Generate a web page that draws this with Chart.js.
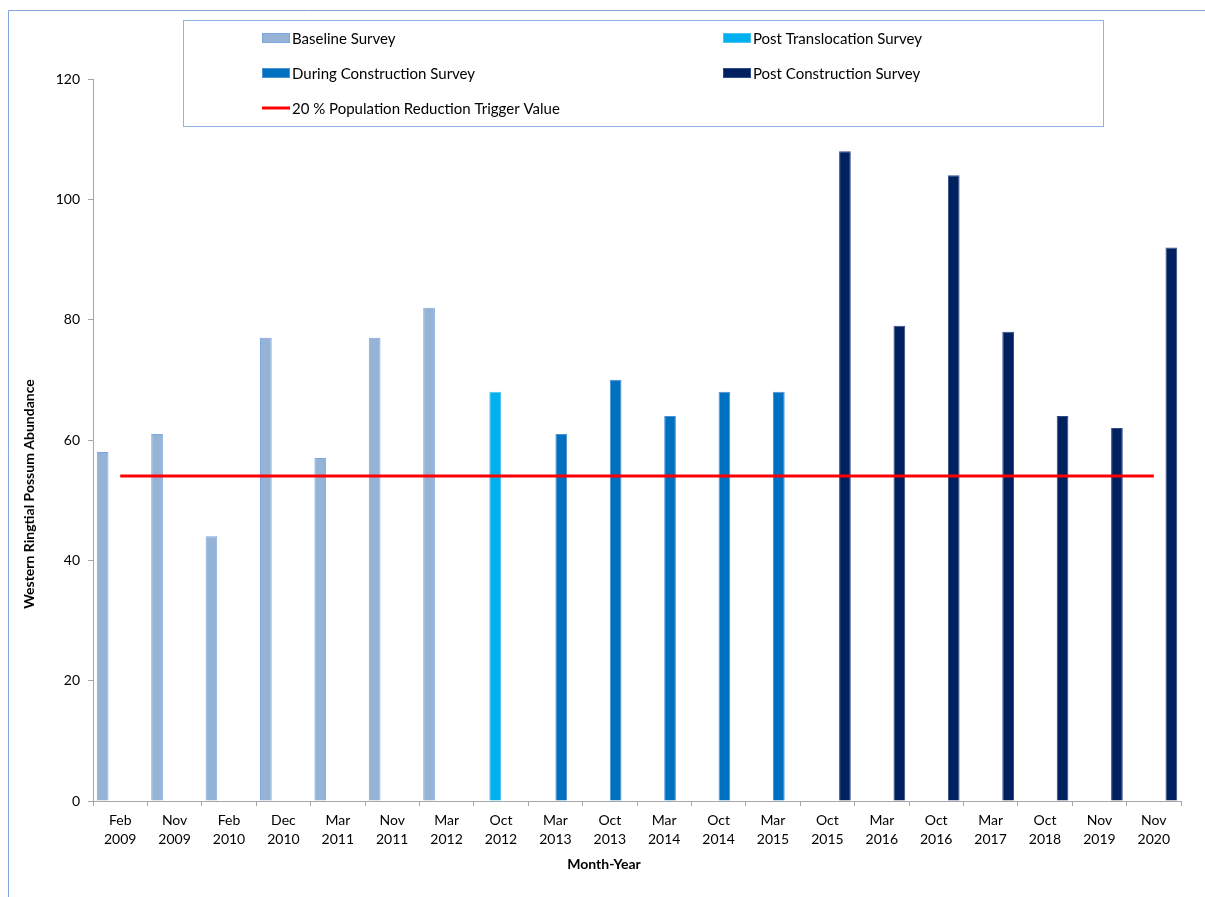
<!DOCTYPE html>
<html>
<head>
<meta charset="utf-8">
<script src="https://cdn.jsdelivr.net/npm/chart.js@4.4.1/dist/chart.umd.min.js"></script>
<style>
  body { margin: 0; background: #fff; }
  #wrap { position: relative; width: 1205px; height: 897px; }
</style>
</head>
<body>
<div id="wrap"><canvas id="myChart"></canvas></div>
<script>
const categories = [
  ['Feb', '2009'], ['Nov', '2009'], ['Feb', '2010'], ['Dec', '2010'], ['Mar', '2011'],
  ['Nov', '2011'], ['Mar', '2012'], ['Oct', '2012'], ['Mar', '2013'], ['Oct', '2013'],
  ['Mar', '2014'], ['Oct', '2014'], ['Mar', '2015'], ['Oct', '2015'], ['Mar', '2016'],
  ['Oct', '2016'], ['Mar', '2017'], ['Oct', '2018'], ['Nov', '2019'], ['Nov', '2020']
];

const baseline = [58, 61, 44, 77, 57, 77, 82, null, null, null, null, null, null, null, null, null, null, null, null, null];
const postTranslocation = [null, null, null, null, null, null, null, 68, null, null, null, null, null, null, null, null, null, null, null, null];
const duringConstruction = [null, null, null, null, null, null, null, null, 61, 70, 64, 68, 68, null, null, null, null, null, null, null];
const postConstruction = [null, null, null, null, null, null, null, null, null, null, null, null, null, 108, 79, 104, 78, 64, 62, 92];
const triggerValue = [54, 54, 54, 54, 54, 54, 54, 54, 54, 54, 54, 54, 54, 54, 54, 54, 54, 54, 54, 54];

const yTicks = [0, 20, 40, 60, 80, 100, 120];

const FONT = 'Lato, "DejaVu Sans", sans-serif';

// frame, legend box and axis titles
const extras = {
  id: 'extras',
  beforeDraw(chart) {
    const ctx = chart.ctx;
    ctx.save();
    ctx.strokeStyle = '#7fa6dc';
    ctx.lineWidth = 1;
    ctx.beginPath();
    ctx.moveTo(8.5, 897);
    ctx.lineTo(8.5, 10.5);
    ctx.lineTo(1205, 10.5);
    ctx.stroke();
    ctx.restore();
  },
  afterDraw(chart) {
    const ctx = chart.ctx;
    ctx.save();
    // legend box
    ctx.fillStyle = '#fff';
    ctx.fillRect(183, 20, 920, 106);
    ctx.strokeStyle = '#8db3e2';
    ctx.lineWidth = 1;
    ctx.strokeRect(183.5, 20.5, 920, 106);

    const spots = [[262, 38], [723, 38], [262, 73], [723, 73], [262, 108]];
    ctx.font = '15px ' + FONT;
    ctx.textBaseline = 'middle';
    ctx.textAlign = 'left';
    chart.data.datasets.forEach((ds, i) => {
      const [x, y] = spots[i];
      if (ds.type === 'line') {
        ctx.strokeStyle = ds.borderColor;
        ctx.lineWidth = 3;
        ctx.beginPath();
        ctx.moveTo(x, y);
        ctx.lineTo(x + 28, y);
        ctx.stroke();
      } else {
        ctx.fillStyle = ds.backgroundColor;
        ctx.fillRect(x, y - 5, 28, 10);
        ctx.strokeStyle = ds.borderColor;
        ctx.lineWidth = 1;
        ctx.strokeRect(x + 0.5, y - 4.5, 27, 9);
      }
      ctx.fillStyle = '#000';
      ctx.fillText(ds.label, x + 30, y + 1);
    });

    // axis titles
    ctx.font = 'bold 14px ' + FONT;
    ctx.fillStyle = '#000';
    ctx.textAlign = 'center';
    ctx.fillText('Month-Year', 604, 864);
    ctx.translate(29, 494);
    ctx.rotate(-Math.PI / 2);
    ctx.fillText('Western Ringtial Possum Abundance', 0, 0);
    ctx.restore();
  }
};

function barSet(label, values, fill, edge) {
  return {
    type: 'bar',
    label: label,
    data: values,
    backgroundColor: fill,
    borderColor: edge,
    borderWidth: 1,
    order: 1
  };
}

const data = {
  labels: categories,
  datasets: [
    barSet('Baseline Survey', baseline, '#95b3d7', '#7ea6de'),
    barSet('Post Translocation Survey', postTranslocation, '#00b0f0', '#4cc4f2'),
    barSet('During Construction Survey', duringConstruction, '#0070c0', '#4a91d2'),
    barSet('Post Construction Survey', postConstruction, '#002060', '#2d4b86'),
    {
      type: 'line',
      label: '20 % Population Reduction Trigger Value',
      data: triggerValue,
      borderColor: '#ff0000',
      backgroundColor: '#ff0000',
      borderWidth: 3,
      pointRadius: 0,
      order: 0
    }
  ]
};

const config = {
  type: 'bar',
  data: data,
  plugins: [extras],
  options: {
    responsive: true,
    maintainAspectRatio: false,
    animation: false,
    layout: { padding: { top: 79, right: 24, left: 0, bottom: 0 } },
    datasets: {
      bar: { categoryPercentage: 0.86, barPercentage: 1.0 }
    },
    plugins: {
      legend: { display: false },
      tooltip: { enabled: false }
    },
    scales: {
      x: {
        offset: true,
        grid: {
          offset: true,
          drawOnChartArea: false,
          drawTicks: true,
          tickLength: 5,
          color: '#a6a6a6'
        },
        border: { display: true, color: '#a6a6a6', width: 1 },
        ticks: {
          color: '#000',
          font: { family: FONT, size: 14, lineHeight: 1.35 },
          padding: 5,
          maxRotation: 0,
          autoSkip: false
        },
        afterFit(scale) { scale.height = 96; }
      },
      y: {
        min: 0,
        max: 120,
        afterBuildTicks(scale) { scale.ticks = yTicks.map(v => ({ value: v })); },
        grid: {
          drawOnChartArea: false,
          drawTicks: true,
          tickLength: 5,
          color: '#a6a6a6'
        },
        border: { display: true, color: '#a6a6a6', width: 1 },
        ticks: {
          color: '#000',
          font: { family: FONT, size: 14 },
          padding: 8
        },
        afterFit(scale) { scale.width = 93; }
      }
    }
  }
};

const myChart = new Chart(document.getElementById('myChart'), config);
</script>
</body>
</html>
